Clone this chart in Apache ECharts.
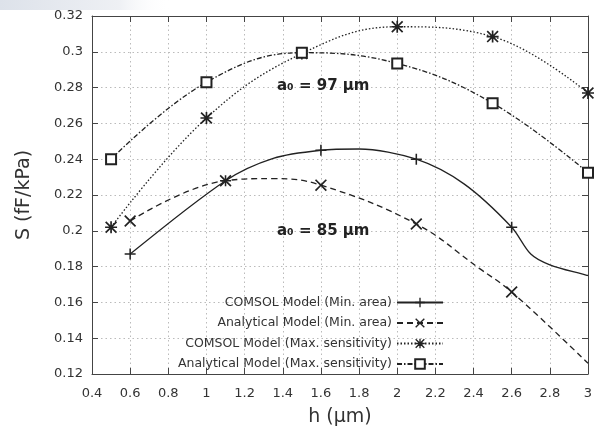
<!DOCTYPE html>
<html>
<head>
<meta charset="utf-8">
<script src="https://cdn.jsdelivr.net/npm/echarts@6/dist/echarts.min.js"></script>
<style>html,body{margin:0;padding:0;background:#fff;}#c{width:597px;height:432px;}</style>
</head>
<body>
<div id="c"></div>
<script>
// ---- data ----
const seriesNames = [
  'COMSOL Model (Min. area)',
  'Analytical Model (Min. area)',
  'COMSOL Model (Max. sensitivity)',
  'Analytical Model (Max. sensitivity)'
];
const comsolMinH = [0.6, 1.1, 1.35, 1.6, 1.8, 2.1, 2.35, 2.6, 2.7, 2.8, 3.0];
const comsolMinS = [0.187, 0.228, 0.2405, 0.245, 0.2457, 0.240, 0.2262, 0.202, 0.187, 0.181, 0.175];
const comsolMinMarks = [0.6, 1.1, 1.6, 2.1, 2.6];

const anaMinH = [0.6, 1.1, 1.35, 1.6, 2.1, 2.43, 2.6, 3.0];
const anaMinS = [0.2055, 0.228, 0.2292, 0.2255, 0.2038, 0.179, 0.1658, 0.126];
const anaMinMarks = [0.6, 1.1, 1.6, 2.1, 2.6];

const comsolMaxH = [0.5, 1.0, 1.5, 2.0, 2.5, 3.0];
const comsolMaxS = [0.202, 0.263, 0.299, 0.314, 0.3085, 0.277];
const comsolMaxMarks = [0.5, 1.0, 1.5, 2.0, 2.5, 3.0];

const anaMaxH = [0.5, 1.0, 1.5, 2.0, 2.5, 3.0];
const anaMaxS = [0.240, 0.283, 0.2995, 0.2935, 0.2713, 0.2325];
const anaMaxMarks = [0.5, 1.0, 1.5, 2.0, 2.5, 3.0];

const annotations = ['a\u2080 = 97 \u03bcm', 'a\u2080 = 85 \u03bcm'];

// ---- symbols ----
const PLUS = 'path://M4.3,0 H5.7 V4.3 H10 V5.7 H5.7 V10 H4.3 V5.7 H0 V4.3 H4.3 Z';
const CROSS = 'path://M0,1 L1,0 L5,4 L9,0 L10,1 L6,5 L10,9 L9,10 L5,6 L1,10 L0,9 L4,5 Z';
const STAR = 'path://M4.3,0 H5.7 V4.3 H10 V5.7 H5.7 V10 H4.3 V5.7 H0 V4.3 H4.3 Z M0,1 L1,0 L5,4 L9,0 L10,1 L6,5 L10,9 L9,10 L5,6 L1,10 L0,9 L4,5 Z';

const INK = '#222';
const FONT = 'DejaVu Sans';

function buildData(hs, ss, marks) {
  return hs.map((h, i) => {
    const on = marks.some(m => Math.abs(m - h) < 1e-9);
    return on ? { value: [h, ss[i]] } : { value: [h, ss[i]], symbol: 'none' };
  });
}

function lineSeries(name, hs, ss, marks, symbol, size, lineType, smooth) {
  return {
    name: name,
    type: 'line',
    xAxisIndex: 0, yAxisIndex: 0,
    data: buildData(hs, ss, marks),
    smooth: smooth,
    symbol: symbol,
    symbolSize: size,
    showAllSymbol: true,
    lineStyle: { color: INK, width: 1.3, type: lineType },
    itemStyle: { color: INK, borderWidth: 0 },
    emphasis: { disabled: true },
    animation: false,
    z: 3
  };
}

const chart = echarts.init(document.getElementById('c'), null, { renderer: 'canvas' });

const axisCommon = {
  type: 'value',
  axisLine: { show: true, onZero: false, lineStyle: { color: '#444', width: 1 } },
  axisTick: { show: true, inside: true, length: 6, lineStyle: { color: '#444' } }
};

const sqSeries = lineSeries(seriesNames[3], anaMaxH, anaMaxS, anaMaxMarks, 'emptyRect', 10, [5, 2, 1.5, 2], 0.4);
sqSeries.itemStyle = { color: INK, borderColor: INK, borderWidth: 1.3 };

const option = {
  backgroundColor: '#fff',
  animation: false,
  grid: { left: 92, right: 9, top: 16, bottom: 57, containLabel: false },
  xAxis: [
    Object.assign({}, axisCommon, {
      min: 0.4, max: 3, interval: 0.2, position: 'bottom',
      name: 'h (\u03bcm)', nameLocation: 'middle', nameGap: 34,
      nameTextStyle: { fontFamily: FONT, fontSize: 19, color: '#333' },
      axisLabel: { margin: 13, fontFamily: FONT, fontSize: 13, color: '#333' },
      splitLine: { show: true, lineStyle: { color: '#bbb', type: [1.5, 3], width: 1 } }
    }),
    Object.assign({}, axisCommon, {
      min: 0.4, max: 3, interval: 0.2, position: 'top',
      axisLabel: { show: false }, splitLine: { show: false }
    })
  ],
  yAxis: [
    Object.assign({}, axisCommon, {
      min: 0.12, max: 0.32, interval: 0.02, position: 'left',
      name: 'S (fF/kPa)', nameLocation: 'middle', nameGap: 58, nameRotate: 90,
      nameTextStyle: { fontFamily: FONT, fontSize: 19, color: '#333' },
      axisLabel: { margin: 9, fontFamily: FONT, fontSize: 13, color: '#333' },
      splitLine: { show: true, lineStyle: { color: '#bbb', type: [1.5, 3], width: 1 } }
    }),
    Object.assign({}, axisCommon, {
      min: 0.12, max: 0.32, interval: 0.02, position: 'right',
      axisLabel: { show: false }, splitLine: { show: false }
    })
  ],
  legend: {
    orient: 'vertical',
    align: 'right',
    right: 148,
    top: 291,
    itemWidth: 46,
    itemHeight: 12,
    itemGap: 7.5,
    backgroundColor: 'rgba(255,255,255,0)',
    textStyle: { fontFamily: FONT, fontSize: 12.5, color: '#333' },
    data: seriesNames
  },
  series: [
    lineSeries(seriesNames[0], comsolMinH, comsolMinS, comsolMinMarks, PLUS, 11, 'solid', 0.3),
    lineSeries(seriesNames[1], anaMinH, anaMinS, anaMinMarks, CROSS, 12, [6, 4], 0.4),
    lineSeries(seriesNames[2], comsolMaxH, comsolMaxS, comsolMaxMarks, STAR, 12, [1.5, 2], 0.4),
    sqSeries
  ],
  graphic: [
    {
      type: 'rect', left: 0, top: 0, z: -10,
      shape: { width: 170, height: 10 },
      style: { fill: new echarts.graphic.LinearGradient(0, 0, 1, 0, [
        { offset: 0, color: '#dde2ea' }, { offset: 0.7, color: '#eef0f4' }, { offset: 1, color: 'rgba(255,255,255,0)' }
      ]) }
    },
    {
      type: 'text', left: 277, top: 79, z: 10,
      style: { text: annotations[0], fontFamily: FONT, fontSize: 15, fontWeight: 'bold', fill: '#222' }
    },
    {
      type: 'text', left: 277, top: 224, z: 10,
      style: { text: annotations[1], fontFamily: FONT, fontSize: 15, fontWeight: 'bold', fill: '#222' }
    }
  ]
};
chart.setOption(option);
</script>
</body>
</html>
